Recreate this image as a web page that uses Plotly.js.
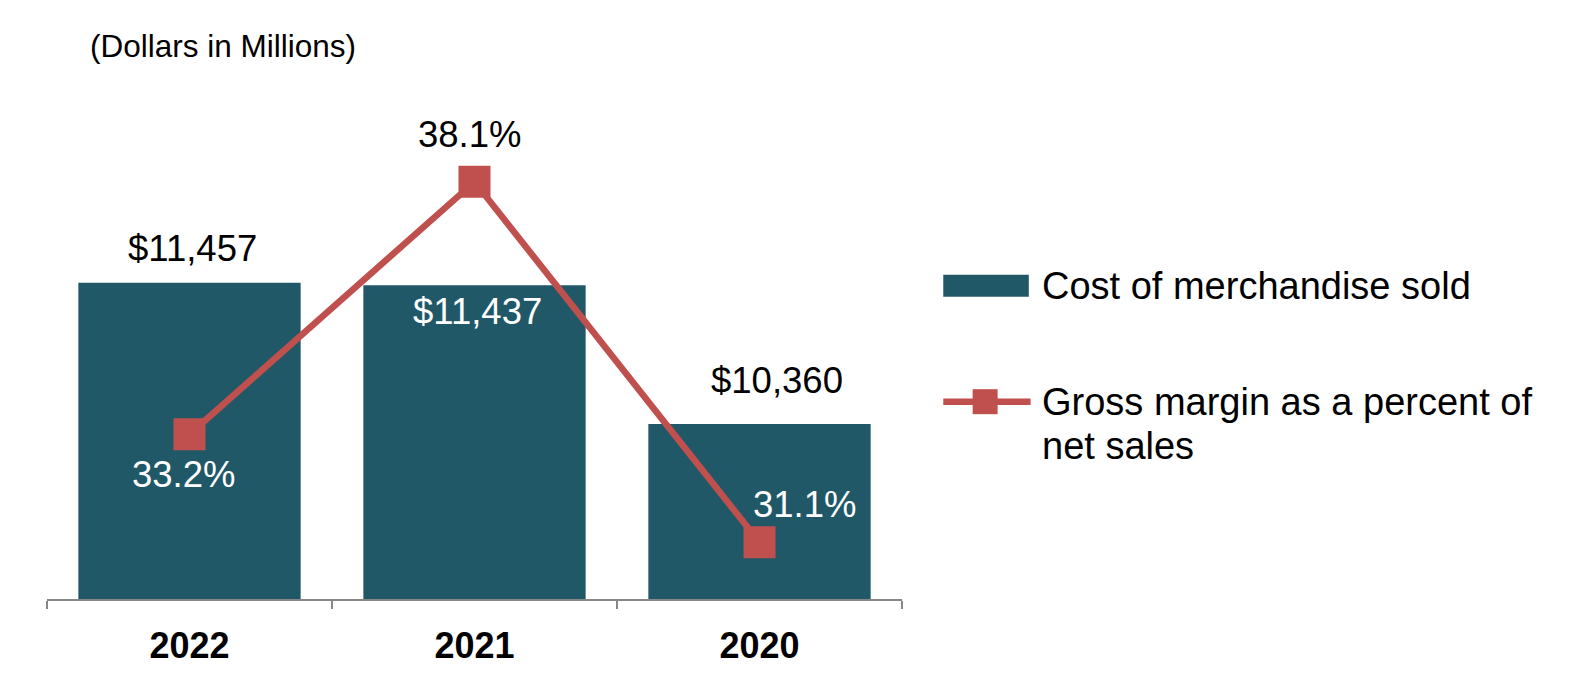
<!DOCTYPE html>
<html>
<head>
<meta charset="utf-8">
<script src="https://cdn.plot.ly/plotly-3.0.1.min.js"></script>
<style>html,body{margin:0;padding:0;background:#fff;}#chart{width:1579px;height:688px;}</style>
</head>
<body>
<div id="chart"></div>
<script>
// ---- data ----
const years = ['2022', '2021', '2020'];
const costOfMerchandise = [11457, 11437, 10360];
const grossMarginPct = [33.2, 38.1, 31.1];
const seriesNames = ['Cost of merchandise sold', 'Gross margin as a percent of net sales'];
const chartTitle = '(Dollars in Millions)';

(function () {
  // ---- style ----
  var barColor = '#215868';
  var lineColor = '#C0504D';
  var FONT = 'Liberation Sans, Arial, sans-serif';
  var pL = 46.7, pR = 902.3, pT = 84, pB = 599.5, W = 1579, H = 688;
  var px2x = function (p) { return (p - pL) / (pR - pL); };
  var py2y = function (p) { return (pB - p) / (pB - pT); };
  var pos = years.map(function (_, i) { return i; });

  var barLabelShift = [{dx: 3, dy: 34, c: '#000'}, {dx: 3, dy: -26, c: '#fff'}, {dx: 17, dy: 43, c: '#000'}];
  var pctLabelShift = [{dx: -6, dy: -40, c: '#fff'}, {dx: -4.5, dy: 47, c: '#000'}, {dx: 45, dy: 38, c: '#fff'}];

  var bars = {
    type: 'bar', x: pos, y: costOfMerchandise, name: seriesNames[0],
    marker: {color: barColor}, hoverinfo: 'skip', showlegend: false
  };
  var lineTrace = {
    type: 'scatter', mode: 'lines+markers', x: pos, y: grossMarginPct, yaxis: 'y2',
    name: seriesNames[1],
    line: {color: lineColor, width: 6.5},
    marker: {symbol: 'square', size: 32, color: lineColor},
    hoverinfo: 'skip', showlegend: false
  };

  var annotations = [];
  pos.forEach(function (p, i) {
    annotations.push({
      x: p, y: costOfMerchandise[i], xref: 'x', yref: 'y',
      text: '$' + costOfMerchandise[i].toLocaleString('en-US'),
      showarrow: false, xanchor: 'center', yanchor: 'middle',
      xshift: barLabelShift[i].dx, yshift: barLabelShift[i].dy,
      font: {family: FONT, size: 36.5, color: barLabelShift[i].c}
    });
    annotations.push({
      x: p, y: grossMarginPct[i], xref: 'x', yref: 'y2',
      text: grossMarginPct[i].toFixed(1) + '%',
      showarrow: false, xanchor: 'center', yanchor: 'middle',
      xshift: pctLabelShift[i].dx, yshift: pctLabelShift[i].dy,
      font: {family: FONT, size: 36.5, color: pctLabelShift[i].c}
    });
  });

  var legFont = {family: FONT, size: 38, color: '#000'};
  annotations.push({xref: 'paper', yref: 'paper', x: px2x(1040), y: py2y(286), xanchor: 'left', yanchor: 'middle',
    text: seriesNames[0], showarrow: false, font: legFont});
  annotations.push({xref: 'paper', yref: 'paper', x: px2x(1040), y: py2y(402), xanchor: 'left', yanchor: 'middle',
    text: 'Gross margin as a percent of', showarrow: false, font: legFont});
  annotations.push({xref: 'paper', yref: 'paper', x: px2x(1040), y: py2y(446), xanchor: 'left', yanchor: 'middle',
    text: 'net sales', showarrow: false, font: legFont});

  var shapes = [
    {type: 'rect', xref: 'paper', yref: 'paper', x0: px2x(943.6), x1: px2x(1029.2), y0: py2y(275), y1: py2y(297),
     fillcolor: barColor, line: {width: 0}},
    {type: 'line', xref: 'paper', yref: 'paper', x0: px2x(943.6), x1: px2x(1031), y0: py2y(402), y1: py2y(402),
     line: {color: lineColor, width: 6.5}},
    {type: 'rect', xref: 'paper', yref: 'paper', x0: px2x(973), x1: px2x(998), y0: py2y(389.5), y1: py2y(414.5),
     fillcolor: lineColor, line: {width: 0}}
  ];

  var bounds = [-0.5].concat(pos.map(function (p) { return p + 0.5; }));

  var layout = {
    width: W, height: H,
    margin: {l: pL, r: W - pR, t: pT, b: H - pB, pad: 0},
    paper_bgcolor: '#fff', plot_bgcolor: '#fff',
    showlegend: false,
    bargap: 0.22,
    title: {text: chartTitle, xref: 'container', yref: 'container', x: 90 / W, y: 1 - 46 / H,
            xanchor: 'left', yanchor: 'middle', font: {family: FONT, size: 31.5, color: '#000'}},
    xaxis: {
      type: 'linear', range: [-0.5, years.length - 0.5], fixedrange: true,
      tickmode: 'array', tickvals: pos, ticktext: years, ticks: '',
      minor: {tickmode: 'array', tickvals: bounds, ticks: 'outside', ticklen: 8, tickwidth: 1.5, tickcolor: '#878787', showgrid: false},
      showline: true, linecolor: '#878787', linewidth: 1.5,
      showgrid: false, zeroline: false,
      tickfont: {family: FONT, size: 36, color: '#000', weight: 'bold'},
      ticklabelstandoff: 14
    },
    yaxis: {range: [9000, 13000], visible: false, showgrid: false, zeroline: false},
    yaxis2: {range: [30, 40], overlaying: 'y', side: 'right', visible: false, showgrid: false, zeroline: false},
    annotations: annotations,
    shapes: shapes
  };

  Plotly.newPlot('chart', [bars, lineTrace], layout, {displayModeBar: false, staticPlot: true});
})();
</script>
</body>
</html>
